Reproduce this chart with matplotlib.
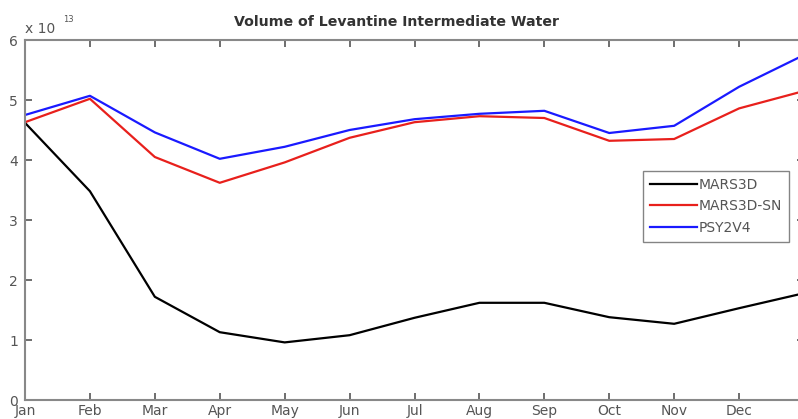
import matplotlib
matplotlib.use("Agg")
import matplotlib.pyplot as plt
import numpy as np

months = ["Jan", "Feb", "Mar", "Apr", "May", "Jun", "Jul", "Aug", "Sep", "Oct", "Nov", "Dec"]
x_pos = [1, 2, 3, 4, 5, 6, 7, 8, 9, 10, 11, 12, 13]
mars3d = [4.62, 3.48, 1.72, 1.13, 0.96, 1.08, 1.37, 1.62, 1.62, 1.38, 1.27, 1.53, 1.78]
mars3d_sn = [4.63, 5.02, 4.05, 3.62, 3.96, 4.37, 4.63, 4.73, 4.70, 4.32, 4.35, 4.86, 5.15]
psy2v4 = [4.75, 5.07, 4.46, 4.02, 4.22, 4.50, 4.68, 4.77, 4.82, 4.45, 4.57, 5.22, 5.75]
yticks = [0, 1, 2, 3, 4, 5, 6]

gray = "#555555"
fig = plt.figure(figsize=(7.98, 4.19), dpi=100)
ax = fig.add_axes([25/798, 19/419, 779/798, 360/419])

ax.plot(x_pos, mars3d, color="black", lw=1.6, label="MARS3D")
ax.plot(x_pos, mars3d_sn, color="#e8201c", lw=1.6, label="MARS3D-SN")
ax.plot(x_pos, psy2v4, color="#1a1aff", lw=1.6, label="PSY2V4")

ax.set_xlim(1, 13)
ax.set_ylim(0, 6)
ax.set_xticks(x_pos[:12])
ax.set_xticklabels(months)
ax.set_yticks(yticks)
ax.set_yticklabels([str(v) for v in yticks])
ax.tick_params(direction="in", length=5, colors=gray, labelsize=10, top=True, right=True,
               width=1.2, pad=3)
ax.tick_params(axis="y", pad=5)
for s in ax.spines.values():
    s.set_color("#888888")
    s.set_linewidth(1.5)

fig.text(397/798, 1 - 22/419, "Volume of Levantine Intermediate Water", fontsize=10.2,
         fontweight="bold", color="#333333", ha="center", va="center")
ax.text(0.0, 1.012, "x 10", transform=ax.transAxes, fontsize=10, color=gray,
        ha="left", va="bottom")
ax.text(0.049, 1.045, "13", transform=ax.transAxes, fontsize=6, color=gray,
        ha="left", va="bottom")

leg = ax.legend(loc="upper left", bbox_to_anchor=(0.793, 0.637), fontsize=10, frameon=True,
                fancybox=False, handlelength=3.4, handletextpad=0.1, borderpad=0.5,
                labelspacing=0.55, borderaxespad=0)
leg.get_frame().set_edgecolor("#666666")
leg.get_frame().set_linewidth(1.0)
for t in leg.get_texts():
    t.set_color(gray)

fig.savefig("out.png", dpi=100)
